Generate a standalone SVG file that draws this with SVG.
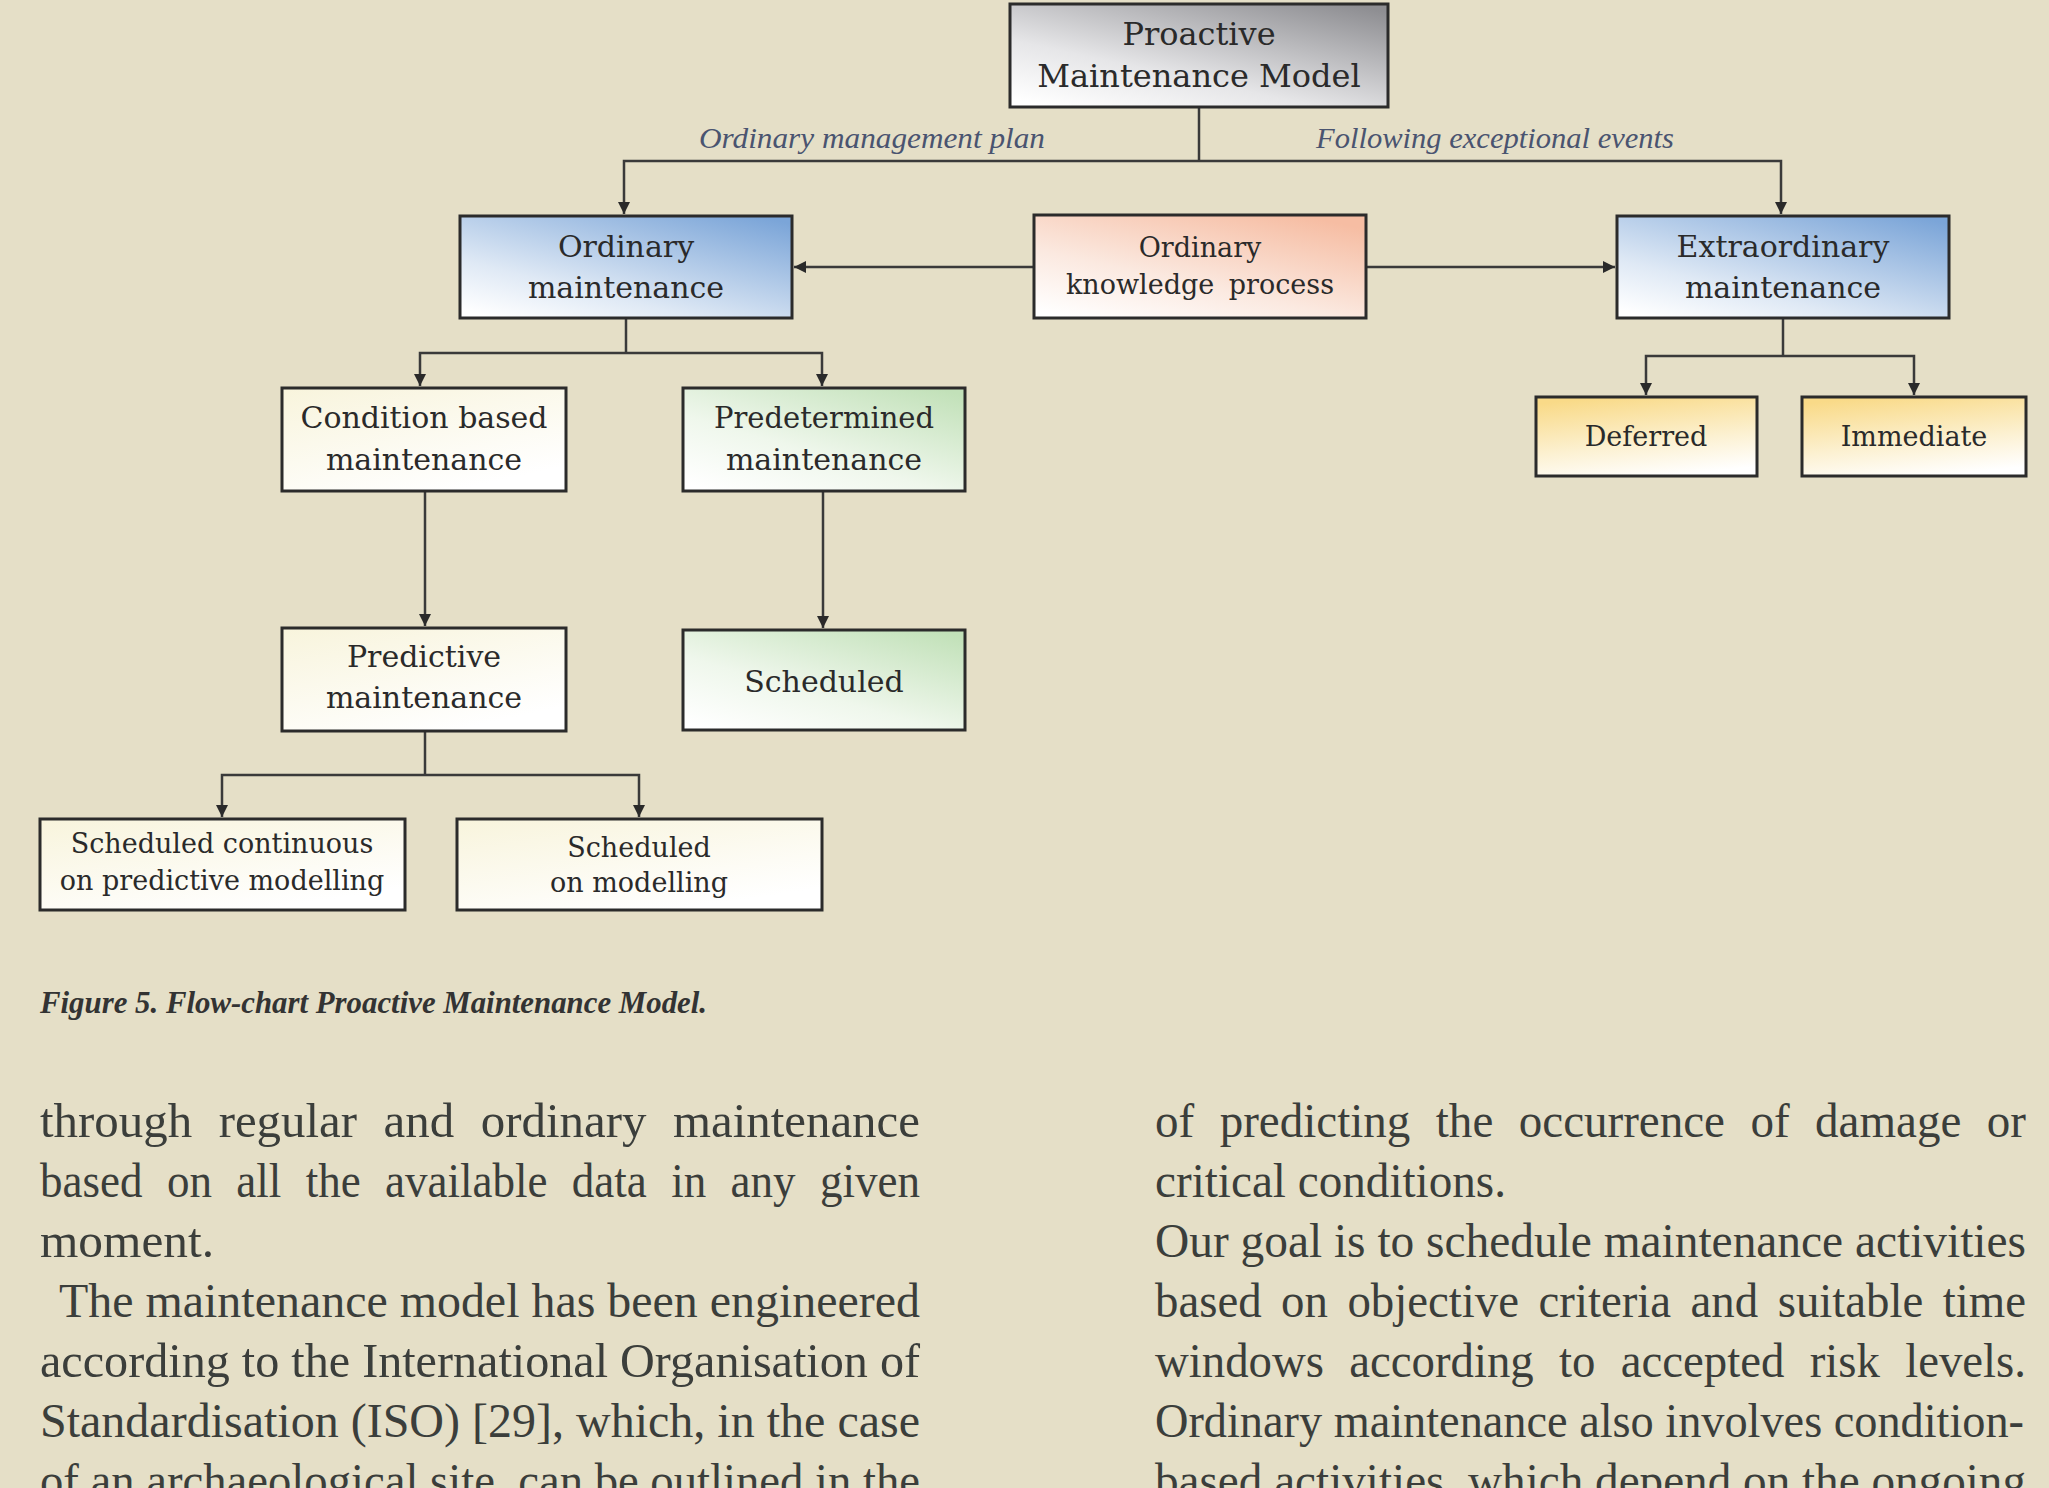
<svg xmlns="http://www.w3.org/2000/svg" width="2049" height="1488" viewBox="0 0 2049 1488">
<defs>
<linearGradient id="gGray" x1="0.1" y1="1" x2="0.9" y2="0"><stop offset="0" stop-color="#ffffff"/><stop offset="0.35" stop-color="#e6e6e8"/><stop offset="1" stop-color="#8e8e92"/></linearGradient>
<linearGradient id="gBlue" x1="0.1" y1="1" x2="0.9" y2="0"><stop offset="0" stop-color="#ffffff"/><stop offset="0.3" stop-color="#dfe9f5"/><stop offset="1" stop-color="#7ba5d8"/></linearGradient>
<linearGradient id="gPeach" x1="0.1" y1="1" x2="0.8" y2="0"><stop offset="0" stop-color="#ffffff"/><stop offset="0.4" stop-color="#fbe9e0"/><stop offset="1" stop-color="#f6bda3"/></linearGradient>
<linearGradient id="gYellow" x1="0.3" y1="0" x2="0.6" y2="1"><stop offset="0" stop-color="#f9da88"/><stop offset="0.6" stop-color="#fcf1d2"/><stop offset="1" stop-color="#ffffff"/></linearGradient>
<linearGradient id="gGreen" x1="0.1" y1="1" x2="0.9" y2="0"><stop offset="0" stop-color="#ffffff"/><stop offset="0.4" stop-color="#eff7ec"/><stop offset="1" stop-color="#c2e1b9"/></linearGradient>
<linearGradient id="gCream" x1="0" y1="0" x2="0.6" y2="1"><stop offset="0" stop-color="#f8f4dc"/><stop offset="1" stop-color="#ffffff"/></linearGradient>
<marker id="arr" viewBox="0 0 12 12" refX="12" refY="6" markerWidth="12" markerHeight="12" markerUnits="userSpaceOnUse" orient="auto"><path d="M0,0 L12,6 L0,12 z" fill="#2a2a2a"/></marker>
<style>
.box{stroke:#2b2b2b;stroke-width:3}
.nt{font-family:"DejaVu Serif","Liberation Serif",serif;fill:#2a2a2a;text-anchor:middle}
.conn{fill:none;stroke:#3a3a3a;stroke-width:2.5}
.lbl{font-family:"Liberation Serif",serif;font-style:italic;font-size:30px;fill:#4a5470}
.body{font-family:"Liberation Serif",serif;font-size:48px;fill:#3b3e3b}
.cap{font-family:"Liberation Serif",serif;font-style:italic;font-weight:bold;font-size:32px;fill:#333333}
</style>
</defs>
<rect width="2049" height="1488" fill="#e5dfc7"/>

<g id="connectors">
<path class="conn" d="M1199,107 V161"/>
<path class="conn" d="M1199,161 H624 V214" marker-end="url(#arr)"/>
<path class="conn" d="M1199,161 H1781 V214" marker-end="url(#arr)"/>
<path class="conn" d="M1034,267 H794" marker-end="url(#arr)"/>
<path class="conn" d="M1366,267 H1615" marker-end="url(#arr)"/>
<path class="conn" d="M626,318 V353"/>
<path class="conn" d="M626,353 H420 V386" marker-end="url(#arr)"/>
<path class="conn" d="M626,353 H822 V386" marker-end="url(#arr)"/>
<path class="conn" d="M1783,318 V356"/>
<path class="conn" d="M1783,356 H1646 V395" marker-end="url(#arr)"/>
<path class="conn" d="M1783,356 H1914 V395" marker-end="url(#arr)"/>
<path class="conn" d="M425,491 V626" marker-end="url(#arr)"/>
<path class="conn" d="M823,491 V628" marker-end="url(#arr)"/>
<path class="conn" d="M425,731 V775"/>
<path class="conn" d="M425,775 H222 V817" marker-end="url(#arr)"/>
<path class="conn" d="M425,775 H639 V817" marker-end="url(#arr)"/>
</g>

<g id="edge-labels">
<text class="lbl" x="699" y="148" textLength="346" lengthAdjust="spacingAndGlyphs">Ordinary management plan</text>
<text class="lbl" x="1316" y="148" textLength="358" lengthAdjust="spacingAndGlyphs">Following exceptional events</text>
</g>

<g id="node-proactive">
<rect class="box" x="1010" y="4" width="378" height="103" fill="url(#gGray)"/>
<text class="nt" x="1199" y="45" font-size="32">Proactive</text>
<text class="nt" x="1199" y="87" font-size="32">Maintenance Model</text>
</g>

<g id="node-ordinary">
<rect class="box" x="460" y="216" width="332" height="102" fill="url(#gBlue)"/>
<text class="nt" x="626" y="257" font-size="30" fill="#1f2a3a">Ordinary</text>
<text class="nt" x="626" y="298" font-size="30">maintenance</text>
</g>

<g id="node-knowledge">
<rect class="box" x="1034" y="215" width="332" height="103" fill="url(#gPeach)"/>
<text class="nt" x="1200" y="257" font-size="27">Ordinary</text>
<text class="nt" x="1200" y="294" font-size="27" word-spacing="6">knowledge process</text>
</g>

<g id="node-extraordinary">
<rect class="box" x="1617" y="216" width="332" height="102" fill="url(#gBlue)"/>
<text class="nt" x="1783" y="257" font-size="30" fill="#1f2a3a">Extraordinary</text>
<text class="nt" x="1783" y="298" font-size="30">maintenance</text>
</g>

<g id="node-deferred">
<rect class="box" x="1536" y="397" width="221" height="79" fill="url(#gYellow)"/>
<text class="nt" x="1646" y="446" font-size="27">Deferred</text>
</g>

<g id="node-immediate">
<rect class="box" x="1802" y="397" width="224" height="79" fill="url(#gYellow)"/>
<text class="nt" x="1914" y="446" font-size="27">Immediate</text>
</g>

<g id="node-condition">
<rect class="box" x="282" y="388" width="284" height="103" fill="url(#gCream)"/>
<text class="nt" x="424" y="428" font-size="30">Condition based</text>
<text class="nt" x="424" y="470" font-size="30">maintenance</text>
</g>

<g id="node-predetermined">
<rect class="box" x="683" y="388" width="282" height="103" fill="url(#gGreen)"/>
<text class="nt" x="824" y="428" font-size="29">Predetermined</text>
<text class="nt" x="824" y="470" font-size="30">maintenance</text>
</g>

<g id="node-predictive">
<rect class="box" x="282" y="628" width="284" height="103" fill="url(#gCream)"/>
<text class="nt" x="424" y="667" font-size="30">Predictive</text>
<text class="nt" x="424" y="708" font-size="30">maintenance</text>
</g>

<g id="node-scheduled">
<rect class="box" x="683" y="630" width="282" height="100" fill="url(#gGreen)"/>
<text class="nt" x="824" y="692" font-size="30">Scheduled</text>
</g>

<g id="node-sched-continuous">
<rect class="box" x="40" y="819" width="365" height="91" fill="url(#gCream)"/>
<text class="nt" x="222" y="853" font-size="27">Scheduled continuous</text>
<text class="nt" x="222" y="890" font-size="27">on predictive modelling</text>
</g>

<g id="node-sched-modelling">
<rect class="box" x="457" y="819" width="365" height="91" fill="url(#gCream)"/>
<text class="nt" x="639" y="857" font-size="27">Scheduled</text>
<text class="nt" x="639" y="892" font-size="27">on modelling</text>
</g>

<text class="cap" x="40" y="1013" textLength="667" lengthAdjust="spacingAndGlyphs">Figure 5. Flow-chart Proactive Maintenance Model.</text>

<g id="body-left" class="body">
<text x="40" y="1137" textLength="880" lengthAdjust="spacingAndGlyphs" word-spacing="14">through regular and ordinary maintenance</text>
<text x="40" y="1197" textLength="880" lengthAdjust="spacingAndGlyphs" word-spacing="14">based on all the available data in any given</text>
<text x="40" y="1257" textLength="174" lengthAdjust="spacingAndGlyphs">moment.</text>
<text x="59" y="1317" textLength="861" lengthAdjust="spacingAndGlyphs">The maintenance model has been engineered</text>
<text x="40" y="1377" textLength="880" lengthAdjust="spacingAndGlyphs">according to the International Organisation of</text>
<text x="40" y="1437" textLength="880" lengthAdjust="spacingAndGlyphs">Standardisation (ISO) [29], which, in the case</text>
<text x="40" y="1497" textLength="880" lengthAdjust="spacingAndGlyphs">of an archaeological site, can be outlined in the</text>
</g>

<g id="body-right" class="body">
<text x="1155" y="1137" textLength="871" lengthAdjust="spacingAndGlyphs" word-spacing="14">of predicting the occurrence of damage or</text>
<text x="1155" y="1197" textLength="351" lengthAdjust="spacingAndGlyphs">critical conditions.</text>
<text x="1155" y="1257" textLength="871" lengthAdjust="spacingAndGlyphs">Our goal is to schedule maintenance activities</text>
<text x="1155" y="1317" textLength="871" lengthAdjust="spacingAndGlyphs" word-spacing="8">based on objective criteria and suitable time</text>
<text x="1155" y="1377" textLength="871" lengthAdjust="spacingAndGlyphs" word-spacing="14">windows according to accepted risk levels.</text>
<text x="1155" y="1437" textLength="869" lengthAdjust="spacingAndGlyphs">Ordinary maintenance also involves condition-</text>
<text x="1155" y="1497" textLength="871" lengthAdjust="spacingAndGlyphs">based activities, which depend on the ongoing</text>
</g>
</svg>
